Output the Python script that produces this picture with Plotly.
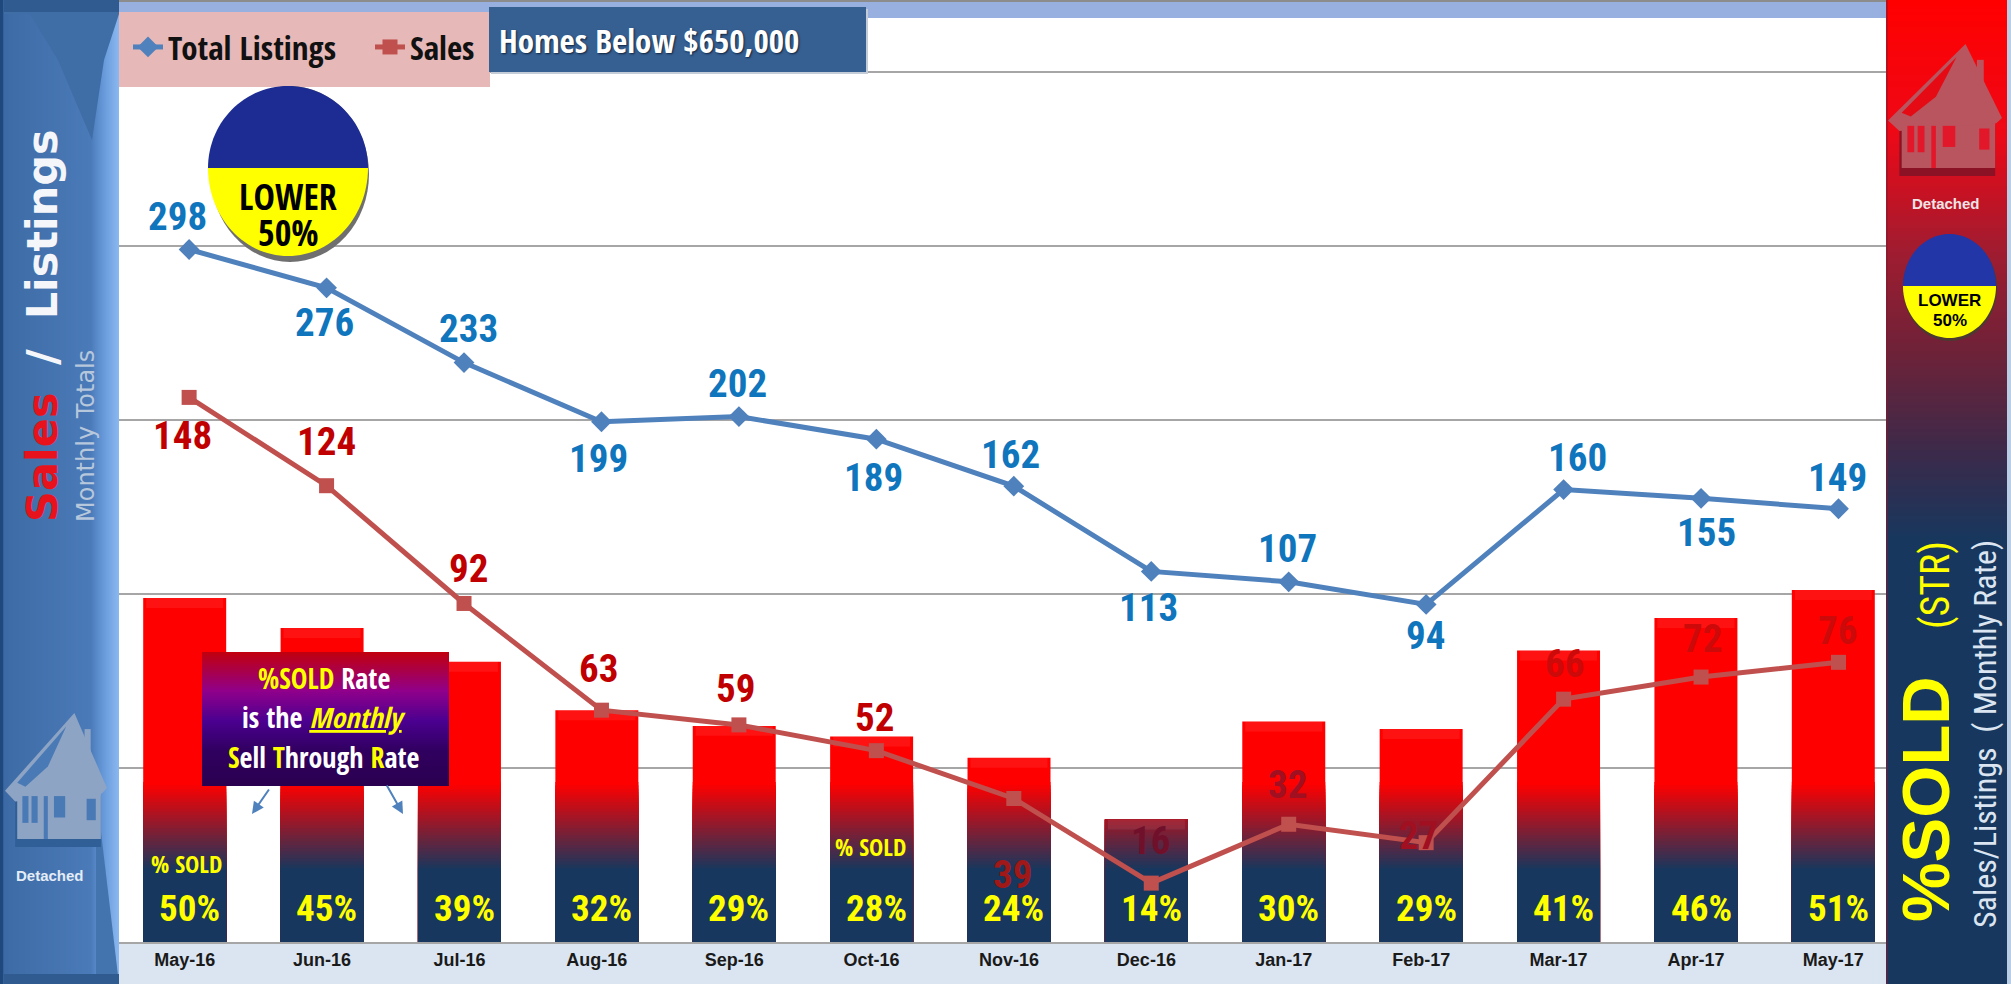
import plotly.graph_objects as go
import math

months = ["May-16","Jun-16","Jul-16","Aug-16","Sep-16","Oct-16","Nov-16","Dec-16","Jan-17","Feb-17","Mar-17","Apr-17","May-17"]
listings = [298,276,233,199,202,189,162,113,107,94,160,155,149]
sales = [148,124,92,63,59,52,39,16,32,27,66,72,76]
pct_sold = [49.7,44.9,39.5,31.7,29.2,27.5,24.1,14.2,29.9,28.7,41.3,46.5,51.0]
pct_labels = ["50%","45%","39%","32%","29%","28%","24%","14%","30%","29%","41%","46%","51%"]

# label offsets from their marker, in pixels
list_dx = [-12,-2,4,-3,-1,-3,-3,-3,-1,-1,14,5,-1]
list_dy = [-33,35,-34,37,-33,39,-31,37,-33,32,-32,35,-31]
sale_dx = [-7,0,4,-3,-3,-2,-1,-1,-1,-8,1,1,-1]
sale_dy = [39,-44,-34,-41,-36,-33,77,-42,-39,-7,-35,-38,-31]
sale_col = ["#c00000"]*6 + ["#a01818","#70102a","#a01020","#a01020","#cc0a0a","#cc0a0a","#cc0a0a"]

W, H = 2011, 984
NARROW = "Roboto Condensed"
CALIBRI = "Open Sans Condensed"
SANS = "Liberation Sans"
PX = lambda x: x / W
PY = lambda y: 1 - y / H

PCT_MIN, PCT_MAX = -5.45, 134.2
GRAD_TOP, GRAD_BOTTOM = 20.2, 6.4
N_BANDS = 26


def mix(stops, y):
    for (a, ca), (b, cb) in zip(stops, stops[1:]):
        if y <= b:
            t = max(0, (y - a) / (b - a) if b > a else 0)
            return "rgb(%d,%d,%d)" % tuple(round(ca[k] + (cb[k] - ca[k]) * t) for k in range(3))
    return "rgb(%d,%d,%d)" % stops[-1][1]


shapes = []
anns = []


def rect(x0, y0, x1, y1, color, layer="above", opacity=1):
    shapes.append(dict(type="rect", xref="paper", yref="paper", x0=PX(x0), x1=PX(x1), y0=PY(y0), y1=PY(y1),
                       fillcolor=color, line=dict(width=0), layer=layer, opacity=opacity))


def poly(points, color, layer="above"):
    d = "M" + "L".join("%.5f,%.5f" % (PX(x), PY(y)) for x, y in points) + "Z"
    shapes.append(dict(type="path", xref="paper", yref="paper", path=d, fillcolor=color,
                       line=dict(width=0), layer=layer))


def ellipse(cx, cy, rx, ry, color):
    shapes.append(dict(type="circle", xref="paper", yref="paper", x0=PX(cx - rx), x1=PX(cx + rx),
                       y0=PY(cy + ry), y1=PY(cy - ry), fillcolor=color, line=dict(width=0), layer="above"))


def half(cx, cy, rx, ry, color, top):
    pts = []
    for k in range(61):
        a = math.pi * k / 60
        pts.append((cx - rx * math.cos(a), cy + (-1 if top else 1) * ry * math.sin(a)))
    poly(pts, color)


def text(x, y, s, size, color, family=NARROW, bold=False, angle=0, xanchor="center", shadow=None):
    f = dict(size=size, color=color, family=family, weight="bold" if bold else "normal")
    if shadow:
        f["shadow"] = shadow
    anns.append(dict(xref="paper", yref="paper", x=PX(x), y=PY(y), text=s, showarrow=False, textangle=angle,
                     font=f, xanchor=xanchor, yanchor="middle"))


def house(x0, y0, w, h, body, dark, hole, panel):
    X = lambda u: x0 + u * w
    Y = lambda v: y0 + v * h
    box = lambda u, v, a, b, c: poly([(X(u), Y(v)), (X(u + a), Y(v)), (X(u + a), Y(v + b)), (X(u), Y(v + b))], c)
    box(.10, .62, .84, .38, dark)
    box(.12, .58, .82, .36, body)
    box(.78, .12, .06, .3, body)
    poly([(X(0), Y(.58)), (X(.68), Y(0)), (X(1), Y(.56)), (X(.95), Y(.6)), (X(.1), Y(.66))], body)
    poly([(X(.12), Y(.52)), (X(.6), Y(.1)), (X(.42), Y(.4)), (X(.2), Y(.55))], panel)
    for u, v, a, b in [(.17, .62, .06, .2), (.26, .62, .06, .2), (.48, .62, .11, .16), (.8, .64, .09, .16)]:
        box(u, v, a, b, hole)
    box(.38, .62, .04, .32, hole)


# ---------- background bands ----------
rect(119, 0, 1886, 18, "#97b0e0", layer="below")
rect(119, 0, 1886, 2, "#8c8c8c", layer="below")
rect(119, 943, 1886, 984, "#dbe5f1", layer="below")

# ---------- left panel ----------
left_stops = [(0, (31, 73, 125)), (4, (60, 105, 165)), (10, (62, 108, 166)), (90, (74, 122, 184)), (104, (105, 155, 220)), (119, (140, 185, 240))]
for x in range(0, 119):
    rect(x, 0, x + 1, H, mix(left_stops, x))
poly([(4, 0), (119, 0), (119, 14), (104, 60), (92, 140), (58, 60), (30, 14), (4, 14)], "#3f6da6")
poly([(4, 0), (119, 0), (119, 12), (4, 12)], "#2f5b90")
poly([(96, 790), (119, 984), (96, 984)], "#4474ad")
poly([(4, 974), (119, 974), (119, 984), (4, 984)], "#2f5b90")
rect(0, 0, 3, H, "#1f497d")
house(5, 713, 102, 134, "#8ea4c4", "#2f5f96", "#4a7ab5", "#4a7ab5")
text(50, 875, "Detached", 15, "#e4ecf7", bold=True, family=SANS)
text(42, 458, "Sales", 43, "#e8121c", family="DejaVu Sans", bold=True, angle=-90)
text(42, 247, "/  Listings", 43, "#f4f6fa", family="DejaVu Sans", bold=True, angle=-90)
text(86, 436, "Monthly Totals", 24, "#b7c7dc", family="DejaVu Sans", angle=-90)

# ---------- right panel ----------
right_stops = [(0, (255, 0, 0)), (130, (238, 8, 22)), (250, (160, 28, 48)), (350, (110, 34, 56)), (450, (60, 42, 74)), (540, (23, 55, 94)), (984, (23, 55, 94))]
for y in range(0, H, 3):
    rect(1886, y, 2007, y + 3, mix(right_stops, y))
rect(2007, 0, W, H, "#b9cde5")
rect(1886, 0, 1888, H, "#7d1a30", opacity=.5)
house(1888, 44, 114, 132, "#b8555f", "#8a1224", "#e2172a", "#e50a14")
text(1946, 204, "Detached", 15, "#f0e4e6", bold=True, family=SANS)
ellipse(1950, 288, 47, 53, "#4a3a30")
half(1949.5, 286, 46.5, 52, "#2236a8", True)
half(1949.5, 286, 46.5, 52, "#ffff00", False)
text(1949.5, 300, "LOWER", 17, "#000000", family=SANS, bold=True)
text(1949.5, 320, "50%", 17, "#000000", family=SANS, bold=True)
text(1925, 799, "%SOLD", 67, "#ffff00", family=SANS, bold=True, angle=-90)
text(1935, 585, "(STR)", 40, "#ffff00", family=NARROW, angle=-90)
text(1985, 734, "Sales/Listings  ( Monthly Rate)", 32, "#dbe5f1", family=NARROW, angle=-90)

# ---------- legend and title boxes ----------
rect(119, 12, 490, 87, "#e6b8b7")
rect(491, 9, 868, 74, "#c4ccd8")
rect(489, 7, 866, 72, "#366092")
text(497, 40, "Homes Below $650,000", 33, "#ffffff", family=CALIBRI, bold=True, xanchor="left", shadow="1px 1px 2px #10233d")

# ---------- LOWER 50% badge ----------
ellipse(290, 174, 79, 88, "#6f6f6f")
half(288, 168, 80, 82, "#1c2c92", True)
half(288, 168, 80, 88, "#ffff00", False)
text(288, 196, "LOWER", 36, "#000000", family=CALIBRI, bold=True)
text(288, 232, "50%", 36, "#000000", family=CALIBRI, bold=True)

# ---------- callout ----------
call_stops = [(652, (192, 0, 16)), (690, (144, 0, 138)), (720, (75, 0, 144)), (750, (48, 0, 95)), (785, (42, 0, 80))]
for y in range(652, 785, 2):
    rect(202, y, 449, y + 2, mix(call_stops, y))
Y_ = "<span style='color:#ffff00'>%s</span>"
text(324, 678, (Y_ % "%SOLD") + " Rate", 28, "#ffffff", family=CALIBRI, bold=True)
text(324, 717, "is the " + (Y_ % "<i><u>Monthly</u></i>"), 28, "#ffffff", family=CALIBRI, bold=True)
text(324, 757, (Y_ % "S") + "ell " + (Y_ % "T") + "hrough " + (Y_ % "R") + "ate", 28, "#ffffff", family=CALIBRI, bold=True)
for x0, y0, x1, y1 in [(270, 788, 252, 814), (386, 784, 403, 814)]:
    anns.append(dict(xref="paper", yref="paper", axref="pixel", ayref="pixel", x=PX(x1), y=PY(y1), ax=x0 - x1, ay=y0 - y1,
                     text="", showarrow=True, arrowhead=2, arrowsize=1.2, arrowwidth=2, arrowcolor="#4f81bd"))

# ---------- bars, as a stack of overlaid colour bands ----------
traces = []
grad = [(GRAD_BOTTOM, (23, 55, 94)), (GRAD_TOP, (255, 0, 0))]
levels = [max(pct_sold)] + [GRAD_TOP - (GRAD_TOP - GRAD_BOTTOM) * k / N_BANDS for k in range(N_BANDS + 1)]
for hi in levels:
    traces.append(go.Bar(x=months, y=[min(v, hi) - PCT_MIN for v in pct_sold], base=PCT_MIN, width=0.604,
                         marker=dict(color=mix(grad, hi), line=dict(width=0)), xaxis="x", yaxis="y",
                         showlegend=False, hoverinfo="skip"))
# soft bevel along the top of each bar
traces.append(go.Bar(x=months, y=[1.6] * len(months), base=[v - 1.6 for v in pct_sold], width=0.56,
                     marker=dict(color="rgba(255,255,255,0.07)", line=dict(width=0)), xaxis="x", yaxis="y",
                     showlegend=False, hoverinfo="skip"))

# ---------- lines ----------
traces.append(go.Scatter(x=months, y=listings, mode="lines+markers", name="Total Listings", xaxis="x2", yaxis="y2",
                         line=dict(color="#4f81bd", width=5), marker=dict(symbol="diamond", size=16, color="#4f81bd")))
traces.append(go.Scatter(x=months, y=sales, mode="lines+markers", name="Sales", xaxis="x2", yaxis="y3",
                         line=dict(color="#c0504d", width=5), marker=dict(symbol="square", size=15, color="#c0504d")))

# ---------- data labels ----------
for m, v, dx, dy in zip(months, listings, list_dx, list_dy):
    anns.append(dict(xref="x2", yref="y2", x=m, y=v, xshift=dx, yshift=-dy, text=str(v), showarrow=False,
                     font=dict(size=39, color="#0f75bc", family=NARROW, weight="bold")))
for m, v, dx, dy, c in zip(months, sales, sale_dx, sale_dy, sale_col):
    anns.append(dict(xref="x2", yref="y3", x=m, y=v, xshift=dx, yshift=-dy, text=str(v), showarrow=False,
                     font=dict(size=39, color=c, family=NARROW, weight="bold")))
for m, s in zip(months, pct_labels):
    anns.append(dict(xref="x2", yref="y", x=m, y=0, text=s, showarrow=False,
                     font=dict(size=37, color="#ffff00", family=NARROW, weight="bold")))
text(186, 863, "% SOLD", 24, "#ffff00", family=CALIBRI)
text(870, 846, "% SOLD", 24, "#ffff00", family=CALIBRI)

dom_x = [PX(116), PX(1902)]
dom_y = [PY(942), PY(71)]
fig = go.Figure(traces)
fig.update_layout(
    width=W, height=H, margin=dict(l=0, r=0, t=0, b=0, pad=0), paper_bgcolor="#ffffff", plot_bgcolor="rgba(0,0,0,0)",
    barmode="overlay", shapes=shapes, annotations=anns, hovermode=False,
    legend=dict(orientation="h", x=PX(128), y=PY(19), xanchor="left", yanchor="top", bgcolor="rgba(0,0,0,0)",
                font=dict(size=33, color="#111111", family=CALIBRI, weight="bold"), itemwidth=30, tracegroupgap=0,
                entrywidth=197, entrywidthmode="pixels"),
    xaxis=dict(domain=dom_x, type="category", categoryorder="array", categoryarray=months, range=[-0.5, 12.5],
               showgrid=False, zeroline=False, showline=True, linecolor="#a6a6a6", linewidth=2, ticks="",
               tickfont=dict(size=18, color="#1a1a1a", family=SANS, weight="bold"), tickangle=0),
    xaxis2=dict(overlaying="x", type="category", categoryorder="array", categoryarray=months, range=[-0.532, 12.462],
                visible=False, anchor="y2"),
    yaxis=dict(domain=dom_y, range=[PCT_MIN, PCT_MAX], showgrid=False, zeroline=False, showticklabels=False, ticks=""),
    yaxis2=dict(overlaying="y", range=[-100, 400.6], dtick=100, tick0=0, showgrid=True, gridcolor="#a6a6a6", gridwidth=1.5,
                zeroline=False, showticklabels=False, ticks="", anchor="x"),
    yaxis3=dict(overlaying="y", range=[0, 236.7], showgrid=False, zeroline=False, showticklabels=False, ticks="", anchor="x"),
)
fig.write_html("out.html", config=dict(displayModeBar=False),
               post_script="document.body.style.margin='0';document.body.style.overflow='hidden';")
